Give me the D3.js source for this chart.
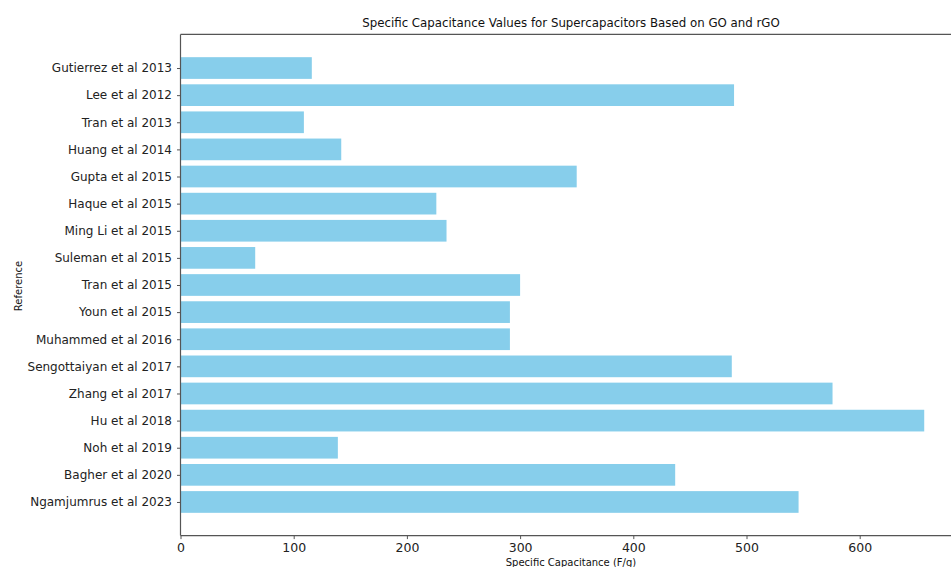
<!DOCTYPE html>
<html>
<head>
<meta charset="utf-8">
<script src="https://cdn.jsdelivr.net/npm/d3@7"></script>
<style>
  body { margin: 0; background: #fff; }
  text { font-family: "DejaVu Sans", sans-serif; }
</style>
</head>
<body>
<script>
// data, top to bottom as shown
var references = ["Gutierrez et al 2013", "Lee et al 2012", "Tran et al 2013", "Huang et al 2014",
  "Gupta et al 2015", "Haque et al 2015", "Ming Li et al 2015", "Suleman et al 2015",
  "Tran et al 2015", "Youn et al 2015", "Muhammed et al 2016", "Sengottaiyan et al 2017",
  "Zhang et al 2017", "Hu et al 2018", "Noh et al 2019", "Bagher et al 2020", "Ngamjumrus et al 2023"];
var capacitance = [116, 489, 109, 142, 350, 226, 235, 66, 300, 291, 291, 487, 576, 657, 139, 437, 546];
var xTicks = [0, 100, 200, 300, 400, 500, 600];

draw();
function draw(){
  var W = 951, H = 567;
  var plotLeft = 180.5, plotTop = 34.4, plotBottom = 535.6;
  var pxPer = 1.132; // px per unit, right edge falls outside the window
  var xMax = d3.max(capacitance) * 1.05;
  var plotRight = plotLeft + xMax * pxPer;

  var svg = d3.select("body").append("svg").attr("width", W).attr("height", H);

  var x = d3.scaleLinear().domain([0, xMax]).range([plotLeft, plotRight]);
  // matplotlib-like: bar height 0.8 and 5% margins
  var n = references.length;
  var y = d3.scaleLinear().domain([-1.24, n - 1 + 1.24]).range([plotTop, plotBottom]);
  var step = y(1) - y(0);

  // bars
  svg.append("g").selectAll("rect").data(capacitance).enter().append("rect")
    .attr("x", x(0))
    .attr("y", function(d, i) { return y(i) - step * 0.4; })
    .attr("width", function(d) { return x(d) - x(0); })
    .attr("height", step * 0.8)
    .attr("fill", "#87CEEB");

  // spines
  var spine = "#555";
  function spineLine(x1, y1, x2, y2){
    svg.append("line").attr("x1", x1).attr("y1", y1).attr("x2", x2).attr("y2", y2)
      .attr("stroke", spine).attr("stroke-width", 1.2);
  }
  spineLine(plotLeft, plotTop, plotLeft, plotBottom);
  spineLine(plotLeft, plotBottom, plotRight, plotBottom);
  spineLine(plotLeft, plotTop, plotRight, plotTop);
  spineLine(plotRight, plotTop, plotRight, plotBottom);

  // x axis
  var xAxis = svg.append("g").attr("transform", "translate(0," + plotBottom + ")")
    .call(d3.axisBottom(x).tickValues(xTicks).tickSize(3.5).tickPadding(4).tickFormat(d3.format("d")));
  xAxis.select(".domain").remove();
  xAxis.selectAll("line").attr("stroke", spine);
  xAxis.selectAll("text").attr("font-size", 12.5).attr("fill", "#222")
    .style("font-family", "DejaVu Sans");

  // y axis
  var yAxis = svg.append("g").attr("transform", "translate(" + plotLeft + ",0)")
    .call(d3.axisLeft(y).tickValues(d3.range(n)).tickSize(3.5).tickPadding(5)
      .tickFormat(function(i) { return references[i]; }));
  yAxis.select(".domain").remove();
  yAxis.selectAll("line").attr("stroke", spine);
  yAxis.selectAll("text").attr("font-size", 12).attr("fill", "#222")
    .style("font-family", "DejaVu Sans");

  // labels
  svg.append("text").attr("x", 571).attr("y", 27).attr("text-anchor", "middle")
    .attr("font-size", 11.8).attr("fill", "#111")
    .text("Specific Capacitance Values for Supercapacitors Based on GO and rGO");
  svg.append("text").attr("x", 571).attr("y", 566).attr("text-anchor", "middle")
    .attr("font-size", 10).attr("fill", "#111")
    .text("Specific Capacitance (F/g)");
  svg.append("text").attr("transform", "translate(22,286) rotate(-90)").attr("text-anchor", "middle")
    .attr("font-size", 10).attr("fill", "#111")
    .text("Reference");
}
</script>
</body>
</html>
